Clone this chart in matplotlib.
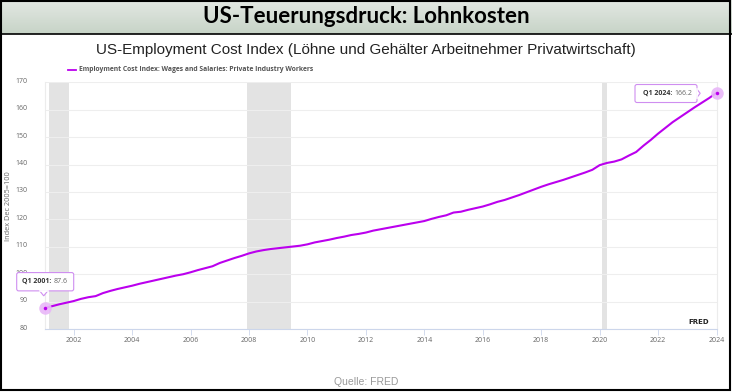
import numpy as np
import matplotlib.pyplot as plt
from matplotlib.patches import Rectangle, FancyBboxPatch, Polygon
from matplotlib.lines import Line2D
from matplotlib.transforms import Affine2D, ScaledTranslation

# Employment Cost Index: Wages and Salaries: Private Industry Workers (Dec 2005=100), quarterly
start_year = 2001
eci = [
    87.6, 88.3, 89.0, 89.6,      # 2001
    90.2, 91.0, 91.6, 92.0,      # 2002
    93.1, 93.9, 94.6, 95.2,      # 2003
    95.8, 96.5, 97.1, 97.7,      # 2004
    98.3, 98.9, 99.5, 100.0,     # 2005
    100.7, 101.5, 102.2, 102.9,  # 2006
    104.1, 105.0, 105.9, 106.7,  # 2007
    107.6, 108.3, 108.8, 109.2,  # 2008
    109.5, 109.8, 110.1, 110.4,  # 2009
    110.9, 111.6, 112.1, 112.6,  # 2010
    113.2, 113.7, 114.3, 114.7,  # 2011
    115.2, 115.9, 116.4, 116.9,  # 2012
    117.4, 117.9, 118.4, 118.9,  # 2013
    119.4, 120.2, 120.9, 121.5,  # 2014
    122.5, 122.8, 123.5, 124.1,  # 2015
    124.7, 125.5, 126.4, 127.1,  # 2016
    128.0, 128.9, 129.9, 130.9,  # 2017
    131.9, 132.8, 133.6, 134.4,  # 2018
    135.3, 136.2, 137.1, 138.1,  # 2019
    139.8, 140.6, 141.1, 141.9,  # 2020
    143.3, 144.6, 146.9, 149.0,  # 2021
    151.3, 153.4, 155.5, 157.3,  # 2022
    159.1, 160.9, 162.6, 164.3,  # 2023
    166.2,                       # 2024
]
t = start_year + np.arange(len(eci)) / 4.0

recessions = [(2001.17, 2001.83), (2007.92, 2009.42), (2020.08, 2020.25)]
x_ticks = [2002, 2004, 2006, 2008, 2010, 2012, 2014, 2016, 2018, 2020, 2022, 2024]
y_ticks = [80, 90, 100, 110, 120, 130, 140, 150, 160, 170]

title = "US-Teuerungsdruck: Lohnkosten"
subtitle = "US-Employment Cost Index (Löhne und Gehälter Arbeitnehmer Privatwirtschaft)"
legend_label = "Employment Cost Index: Wages and Salaries: Private Industry Workers"
source = "Quelle: FRED"

line_color = "#bb00ee"
W, H = 732, 392

fig = plt.figure(figsize=(W / 100, H / 100), dpi=100)
fig.patch.set_facecolor("white")

# header band with gradient
band_h = 34
hax = fig.add_axes([0, 1 - band_h / H, 1, band_h / H])
grad = np.linspace(0, 1, 64)[:, None]
top_c = np.array([0.89, 0.91, 0.89])
bot_c = np.array([0.78, 0.83, 0.78])
img = top_c[None, None, :] * (1 - grad[:, :, None]) + bot_c[None, None, :] * grad[:, :, None]
hax.imshow(np.repeat(img, 2, axis=1), aspect="auto", extent=[0, 1, 0, 1])
hax.set_axis_off()
hax.text(0.5, 0.52, title, ha="center", va="center", fontsize=16, fontweight="bold",
         family="Lato", color="black")

# main plot
ax = fig.add_axes([44.5 / W, (H - 329) / H, 672 / W, 246.6 / H])
ax.set_xlim(2001.0, 2024.0)
ax.set_ylim(80, 170)
for a, b in recessions:
    ax.axvspan(a, b, color="#e3e3e3", lw=0, zorder=1)
ax.set_yticks(y_ticks)
ax.set_xticks(x_ticks)
ax.grid(axis="y", color="#eeeeee", lw=0.8, zorder=0)
ax.plot(t, eci, color=line_color, lw=1.5, zorder=3, solid_joinstyle="round")

ax.spines["top"].set_visible(False)
for s in ["left", "right"]:
    ax.spines[s].set_color("#ececec")
    ax.spines[s].set_linewidth(0.8)
ax.spines["bottom"].set_color("#ccd6eb")
ax.spines["bottom"].set_linewidth(0.8)
ax.tick_params(axis="y", length=0, pad=12, labelsize=5, labelcolor="#666666")
ax.tick_params(axis="x", length=4, width=0.6, color="#ccd6eb", pad=2, labelsize=5,
               labelcolor="#666666")
for lab in ax.get_yticklabels() + ax.get_xticklabels():
    lab.set_family("Open Sans")
for lab in ax.get_yticklabels():
    lab.set_transform(lab.get_transform() + ScaledTranslation(0, 2 / 100, fig.dpi_scale_trans))
ax.set_ylabel("Index Dec 2005=100", fontsize=5.3, color="#666666", family="Open Sans")
ax.yaxis.set_label_coords(-32.5 / 672, 0.5)

# end markers
for i in [0, -1]:
    ax.plot(t[i], eci[i], "o", ms=9, color="#e8b6f8", mec="none", zorder=4, alpha=0.9,
            clip_on=False)
    ax.plot(t[i], eci[i], "o", ms=2.5, color=line_color, mec="none", zorder=5, clip_on=False)


def px_trans(x, y):
    return Affine2D().scale(1 / 100) + fig.dpi_scale_trans + ScaledTranslation(x, y, ax.transData)


def callout(x, y, box, pointer, label, value, text_y):
    tr = px_trans(x, y)
    l, r, b, tp = box
    ax.add_patch(FancyBboxPatch((l, b), r - l, tp - b, boxstyle="round,pad=0,rounding_size=2",
                                fc="white", ec="#cf8ef0", lw=0.8, transform=tr, zorder=6,
                                clip_on=False))
    ax.add_patch(Polygon(pointer, closed=False, fc="white", ec="#cf8ef0", lw=0.8,
                         transform=tr, zorder=7, clip_on=False))
    base = np.array([pointer[0], pointer[2]])
    ax.add_line(Line2D(base[:, 0], base[:, 1], color="white", lw=1.2, transform=tr, zorder=7,
                       clip_on=False))
    mid = (l + r) / 2
    ax.text(mid + 6, text_y, label, ha="right", va="center", fontsize=5, fontweight="bold",
            color="#333333", family="Open Sans", transform=tr, zorder=8)
    ax.text(mid + 8, text_y, value, ha="left", va="center", fontsize=5, color="#666666",
            family="Open Sans", transform=tr, zorder=8)


callout(t[0], eci[0], (-27.8, 29.2, 17.3, 35.6), [(-5, 17.6), (-0.8, 12.3), (3.5, 17.6)],
        "Q1 2001:", "87.6", 26.7)
callout(t[-1], eci[-1], (-81.5, -19.5, -9.7, 8.3), [(-19.8, 4), (-16.3, -0.5), (-19.8, -5)],
        "Q1 2024:", "166.2", -0.5)

# FRED mark
ax.text(2023.75, 81.5, "FRED", ha="right", va="bottom", fontsize=5, fontweight="bold",
        color="#222222", family="DejaVu Sans", zorder=5)

# legend
fig.add_artist(Line2D([68 / W, 76 / W], [1 - 69.5 / H] * 2, color=line_color, lw=1.3))
fig.text(79 / W, 1 - 69.5 / H, legend_label, ha="left", va="center", fontsize=4.85,
         fontweight="bold", color="#555555", family="Open Sans")

# subtitle and source
fig.text(0.5, 1 - 50 / H, subtitle, ha="center", va="center", fontsize=11,
         family="Liberation Sans", color="#222222")
fig.text(0.5, 1 - 382 / H, source, ha="center", va="center", fontsize=7.5,
         family="Liberation Sans", color="#999999")

# frame lines
fig.add_artist(Line2D([0, 1], [1 - band_h / H] * 2, color="black", lw=1.2))
fig.add_artist(Rectangle((0.5 / W, 2 / H), 729.5 / W, (H - 2.5) / H, fill=False,
                         ec="black", lw=1.5, transform=fig.transFigure))

fig.savefig("out.png", dpi=100)
